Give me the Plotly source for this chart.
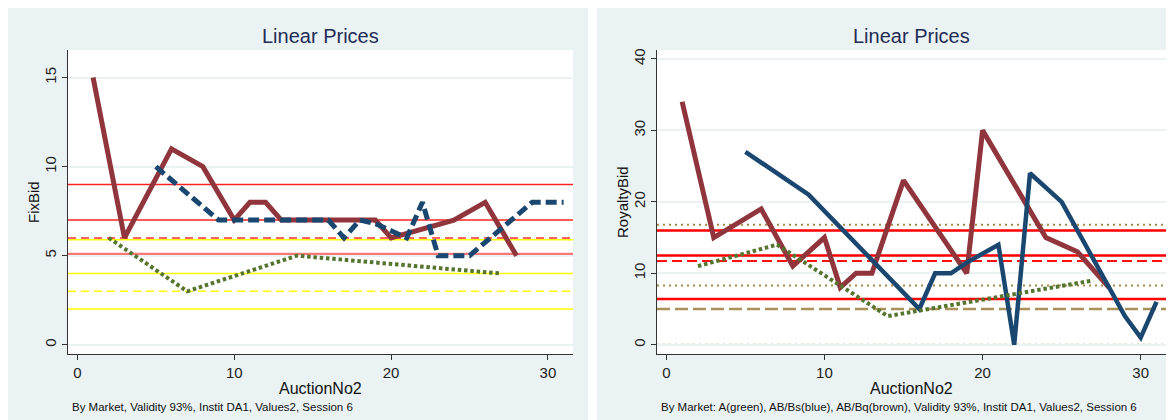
import plotly.graph_objects as go

# figure sits inside the page's 8px body margin
W, H = 1166, 412
OFF = 8

# ---------------- data ----------------
# Left panel: FixBid
fix_brown_x = [1, 3, 6, 8, 10, 11, 12, 13, 19, 20, 24, 26, 28]
fix_brown_y = [15, 6, 11, 10, 7, 8, 8, 7, 7, 6, 7, 8, 5]
fix_blue_x = [5, 9, 16, 17, 18, 19, 20, 21, 22, 23, 25, 29, 31]
fix_blue_y = [10, 7, 7, 6, 7, 6.8, 6.4, 6, 8, 5, 5, 8, 8]
fix_green_x = [2, 7, 14, 27]
fix_green_y = [6, 3, 5, 4]

fix_red_solid = [9, 7]
fix_red_dash = [6]
fix_salmon = [5.1]
fix_yellow_solid = [5.9, 4, 2]
fix_yellow_dash = [3]

# Right panel: RoyaltyBid
roy_brown_x = [1, 3, 6, 8, 10, 11, 12, 13, 15, 19, 20, 24, 26, 28]
roy_brown_y = [34, 15, 19, 11, 15, 8, 10, 10, 23, 10, 30, 15, 13, 8]
roy_blue_x = [5, 9, 16, 17, 18, 19, 21, 22, 23, 25, 29, 30, 31]
roy_blue_y = [27, 21, 5, 10, 10, 11.5, 14, 0, 24, 20, 4, 1, 6]
roy_green_x = [2, 7, 14, 27]
roy_green_y = [11, 14, 4, 9]

roy_red_solid = [16, 12.5, 6.4]
roy_red_dash = [11.7]
roy_olive_dot = [16.8, 8.3, 0]
roy_olive_dash = [5]

x_ticks = [0, 10, 20, 30]
fix_ticks = [0, 5, 10, 15]
roy_ticks = [0, 10, 20, 30, 40]

title_text = "Linear Prices"
x_title = "AuctionNo2"
left_ytitle = "FixBid"
right_ytitle = "RoyaltyBid"
left_note = "By Market, Validity 93%, Instit DA1, Values2, Session 6"
right_note = "By Market: A(green), AB/Bs(blue), AB/Bq(brown), Validity 93%, Instit DA1, Values2, Session 6"

# ---------------- style ----------------
NAVY = "#1a476f"
MAROON = "#90353b"
GREEN = "#55752f"
BG = "#eaf2f3"
FONT = "Liberation Sans, Arial, sans-serif"

def px_x(p):
    return (p - OFF) / W

def px_y(p):
    return 1 - (p - OFF) / H

# plot areas in screen pixels
L = dict(x0=68, x1=573, y0=50, y1=354)
R = dict(x0=657, x1=1166, y0=50, y1=354)

fig = go.Figure()

def add_series(xs, ys, color, width, dash, xa, ya):
    fig.add_trace(go.Scatter(x=xs, y=ys, mode="lines",
                             line=dict(color=color, width=width, dash=dash),
                             xaxis=xa, yaxis=ya, showlegend=False,
                             hoverinfo="skip"))

add_series(fix_brown_x, fix_brown_y, MAROON, 5, "solid", "x", "y")
add_series(fix_blue_x, fix_blue_y, NAVY, 5, "11px,5px", "x", "y")
add_series(fix_green_x, fix_green_y, GREEN, 4, "3.5px,2.8px", "x", "y")

add_series(roy_brown_x, roy_brown_y, MAROON, 5, "solid", "x2", "y2")
add_series(roy_blue_x, roy_blue_y, NAVY, 4.5, "solid", "x2", "y2")
add_series(roy_green_x, roy_green_y, GREEN, 4, "3.5px,2.8px", "x2", "y2")

shapes = []
# white gap between the two panels
shapes.append(dict(type="rect", xref="paper", yref="paper", layer="below",
                   x0=px_x(588), x1=px_x(597), y0=0, y1=1,
                   fillcolor="white", line=dict(width=0)))
for P in (L, R):
    shapes.append(dict(type="rect", xref="paper", yref="paper", layer="below",
                       x0=px_x(P["x0"]), x1=px_x(P["x1"]),
                       y0=px_y(P["y1"]), y1=px_y(P["y0"]),
                       fillcolor="white", line=dict(width=0)))

def hlines(vals, yref, xref, color, width, dash):
    for v in vals:
        shapes.append(dict(type="line", xref=xref, yref=yref, layer="below",
                           x0=0, x1=1, y0=v, y1=v,
                           line=dict(color=color, width=width, dash=dash)))

hlines(fix_yellow_solid, "y", "x domain", "#ffff00", 1.5, "solid")
hlines(fix_yellow_dash, "y", "x domain", "#ffff00", 1.5, "8px,5px")
hlines(fix_red_solid, "y", "x domain", "#ff2020", 1.5, "solid")
hlines(fix_red_dash, "y", "x domain", "#ff3030", 1.5, "8px,5px")
hlines(fix_salmon, "y", "x domain", "#f87878", 2.5, "solid")

hlines(roy_olive_dot, "y2", "x2 domain", "#a38a48", 2, "2px,4px")
hlines(roy_olive_dash, "y2", "x2 domain", "#a8925a", 2.5, "13px,5px")
hlines(roy_red_solid, "y2", "x2 domain", "#ff0000", 2.5, "solid")
hlines(roy_red_dash, "y2", "x2 domain", "#ff1010", 2, "10px,5px")

axis_common = dict(showline=True, linecolor="#333333", linewidth=1.3,
                   ticks="outside", ticklen=5, tickcolor="#333333",
                   tickfont=dict(family=FONT, size=15, color="#222222"),
                   zeroline=False, mirror=False, automargin=False)

fig.update_layout(
    template="none",
    width=W, height=H, autosize=False,
    margin=dict(l=0, r=0, t=0, b=0, pad=0),
    paper_bgcolor=BG,
    plot_bgcolor="rgba(0,0,0,0)",
    shapes=shapes,
    xaxis=dict(domain=[px_x(L["x0"]), px_x(L["x1"])], range=[-0.6, 31.6],
               tickvals=x_ticks, showgrid=False, anchor="y", **axis_common),
    yaxis=dict(domain=[px_y(L["y1"]), px_y(L["y0"])], range=[-0.52, 16.55],
               tickvals=fix_ticks, tickangle=-90, showgrid=True,
               gridcolor=BG, gridwidth=1.5, anchor="x", **axis_common),
    xaxis2=dict(domain=[px_x(R["x0"]), px_x(R["x1"])], range=[-0.59, 31.6],
                tickvals=x_ticks, showgrid=False, anchor="y2", **axis_common),
    yaxis2=dict(domain=[px_y(R["y1"]), px_y(R["y0"])], range=[-1.3, 41.25],
                tickvals=roy_ticks, tickangle=-90, showgrid=True,
                gridcolor=BG, gridwidth=1.5, anchor="x2", **axis_common),
)

ann = []
def text(s, x, y, size, color="#111111", xanchor="center", angle=0):
    ann.append(dict(text=s, x=px_x(x), y=px_y(y), xref="paper", yref="paper",
                    showarrow=False, xanchor=xanchor, yanchor="middle",
                    textangle=angle,
                    font=dict(family=FONT, size=size, color=color)))

text(title_text, 320, 36, 20, color="#1f2c55")
text(title_text, 911, 36, 20, color="#1f2c55")
text(x_title, 320, 388, 16)
text(x_title, 911, 388, 16)
text(left_ytitle, 33, 202, 15, angle=-90)
text(right_ytitle, 622, 202, 15, angle=-90)
text(left_note, 70, 407, 11.5, xanchor="left")
text(right_note, 659, 407, 11.5, xanchor="left")

fig.update_layout(annotations=ann)

fig.write_html("out.html")
